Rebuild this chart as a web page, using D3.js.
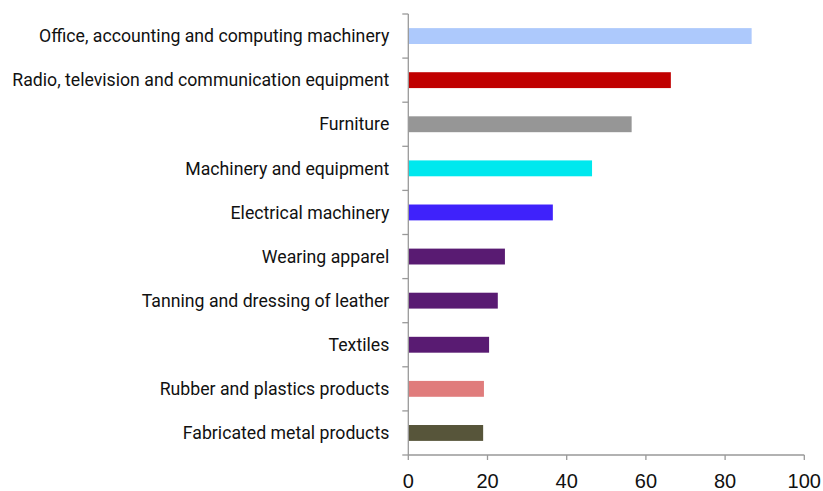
<!DOCTYPE html>
<html><head><meta charset="utf-8">
<script src="https://cdn.jsdelivr.net/npm/d3@7"></script>
<style>body{margin:0;background:#fff}svg{display:block}</style>
</head><body>
<svg id="c" width="823" height="491"></svg>
<script>
const categories = ["Office, accounting and computing machinery","Radio, television and communication equipment","Furniture","Machinery and equipment","Electrical machinery","Wearing apparel","Tanning and dressing of leather","Textiles","Rubber and plastics products","Fabricated metal products"];
const values = [86.7, 66.3, 56.4, 46.4, 36.5, 24.4, 22.6, 20.4, 19.1, 18.9];
const colors = ["#adc9fc","#c00000","#969696","#00e8ee","#3f22fb","#591b72","#591b72","#591b72","#e07c7c","#57553a"];
const xTicks = [0,20,40,60,80,100];

(function(){
const svg = d3.select("#c");
const pL = 408.3, pR = 804.3, pT = 14, pB = 455;
const x = d3.scaleLinear().domain([0,100]).range([pL,pR]);
const y = d3.scaleBand().domain(categories).range([pT,pB]).paddingInner(0.64).paddingOuter(0.32);

svg.selectAll("rect.bar").data(categories).join("rect")
  .attr("class","bar")
  .attr("x", x(0))
  .attr("y", d=>y(d))
  .attr("width", (d,i)=>x(values[i])-x(0))
  .attr("height", y.bandwidth())
  .attr("fill", (d,i)=>colors[i]);

const yb = d3.scaleLinear().domain([0,categories.length]).range([pT,pB]);
const gy = svg.append("g");
gy.append("line").attr("x1",pL).attr("x2",pL).attr("y1",pT).attr("y2",pB).attr("stroke","#999").attr("stroke-width",1.3);
gy.selectAll("line.t").data(d3.range(categories.length+1)).join("line").attr("class","t")
  .attr("x1",pL-6).attr("x2",pL).attr("y1",d=>yb(d)).attr("y2",d=>yb(d)).attr("stroke","#999").attr("stroke-width",1.3);
gy.selectAll("text").data(categories).join("text")
  .attr("x", pL-19).attr("y", d=>y(d)+y.bandwidth()/2)
  .attr("dy","0.35em").attr("text-anchor","end")
  .attr("font-family","Roboto, sans-serif").attr("font-size",17.7).attr("fill","#111")
  .text(d=>d);

const gx = svg.append("g");
gx.append("line").attr("x1",pL).attr("x2",pR).attr("y1",pB).attr("y2",pB).attr("stroke","#999").attr("stroke-width",1.3);
gx.selectAll("line.t").data(xTicks).join("line").attr("class","t")
  .attr("x1",d=>x(d)).attr("x2",d=>x(d)).attr("y1",pB).attr("y2",pB+5).attr("stroke","#999").attr("stroke-width",1.3);
gx.selectAll("text").data(xTicks).join("text")
  .attr("x",d=>x(d)).attr("y",488).attr("text-anchor","middle")
  .attr("font-family","'Liberation Sans', Arial, sans-serif").attr("font-size",20).attr("fill","#111")
  .text(d=>d);
})();
</script>
</body></html>
